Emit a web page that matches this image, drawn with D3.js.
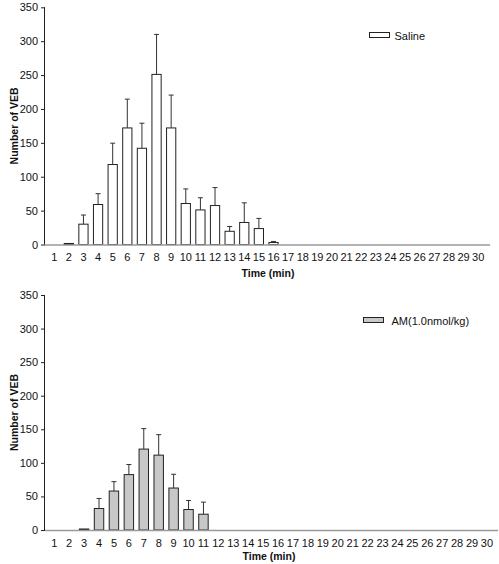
<!DOCTYPE html>
<html>
<head>
<meta charset="utf-8">
<script src="https://cdn.jsdelivr.net/npm/d3@7"></script>
<style>
  html, body { margin: 0; padding: 0; background: #fff; }
  svg { display: block; font-family: "Liberation Sans", Arial, sans-serif; }
</style>
</head>
<body>
<svg id="chart" width="499" height="564"></svg>
<script>
// ---- data ----
const minutes = d3.range(1, 31);
const yTicks = [0, 50, 100, 150, 200, 250, 300, 350];
const salineMean = [0, 1.5, 30, 59, 118, 172, 142, 251, 172, 60.5, 51, 57.5, 19.5, 32.5, 23.5, 3,
  0, 0, 0, 0, 0, 0, 0, 0, 0, 0, 0, 0, 0, 0];
const salineErr = [0, 0, 43.5, 75, 149.5, 214.5, 179, 310, 220.5, 82, 69, 84, 26.5, 61.5, 38.5, 4.5,
  0, 0, 0, 0, 0, 0, 0, 0, 0, 0, 0, 0, 0, 0];
const amMean = [0, 0, 1.5, 32, 58, 82.5, 120.5, 111.5, 62.5, 30.5, 23.5, 0,
  0, 0, 0, 0, 0, 0, 0, 0, 0, 0, 0, 0, 0, 0, 0, 0, 0, 0];
const amErr = [0, 0, 0, 47, 72, 97.5, 151, 142, 83, 44, 41.5, 0,
  0, 0, 0, 0, 0, 0, 0, 0, 0, 0, 0, 0, 0, 0, 0, 0, 0, 0];

const svg = d3.select("#chart");

function panel(cfg) {
  const g = svg.append("g");
  const y = d3.scaleLinear().domain([0, 350]).range([cfg.y0, cfg.y1]);
  const x = d3.scaleBand().domain(minutes).range(cfg.xr).paddingInner(0.3).paddingOuter(0.15);

  // y axis
  const ya = g.append("g").attr("transform", `translate(${cfg.axisX},0)`)
    .call(d3.axisLeft(y).tickValues(yTicks).tickSize(4).tickPadding(3));
  ya.select(".domain").attr("stroke", "#222").attr("d", `M-0.5,${cfg.y1}V${cfg.y0}`);
  ya.selectAll(".tick line").attr("stroke", "#222");
  ya.selectAll(".tick text").attr("font-size", "11px").attr("fill", "#111")
    .attr("font-family", "Liberation Sans, Arial, sans-serif");

  // bars
  const data = minutes.map((m, i) => ({ m, v: cfg.mean[i], e: cfg.err[i] }));
  g.selectAll("rect.bar").data(data.filter(d => d.v > 0)).join("rect")
    .attr("class", "bar")
    .attr("x", d => x(d.m) + 0.5)
    .attr("width", x.bandwidth() - 1)
    .attr("y", d => y(d.v))
    .attr("height", d => y(0) - y(d.v))
    .attr("fill", cfg.fill)
    .attr("stroke", "#222").attr("stroke-width", 1);

  // error bars
  const eb = data.filter(d => d.e > d.v);
  g.selectAll("line.err").data(eb).join("line")
    .attr("class", "err")
    .attr("x1", d => x(d.m) + x.bandwidth() / 2)
    .attr("x2", d => x(d.m) + x.bandwidth() / 2)
    .attr("y1", d => y(d.v)).attr("y2", d => y(d.e))
    .attr("stroke", "#333").attr("stroke-width", 1);
  g.selectAll("line.cap").data(eb).join("line")
    .attr("class", "cap")
    .attr("x1", d => x(d.m) + x.bandwidth() / 2 - 2.5)
    .attr("x2", d => x(d.m) + x.bandwidth() / 2 + 2.5)
    .attr("y1", d => y(d.e)).attr("y2", d => y(d.e))
    .attr("stroke", "#333").attr("stroke-width", 1);

  // x axis
  const xa = g.append("g").attr("transform", `translate(0,${cfg.y0})`)
    .call(d3.axisBottom(x).tickSize(0).tickPadding(9));
  xa.select(".domain").remove();
  g.append("line").attr("x1", cfg.axisX).attr("x2", cfg.axisEnd)
    .attr("y1", y(0) + 0.5).attr("y2", y(0) + 0.5)
    .attr("stroke", "#9a9a9a").attr("stroke-width", 1.6);
  xa.selectAll(".tick text").attr("font-size", "11px").attr("fill", "#111")
    .attr("font-family", "Liberation Sans, Arial, sans-serif");

  // axis titles
  g.append("text")
    .attr("transform", `translate(${cfg.ylabX},${(cfg.y0 + cfg.y1) / 2}) rotate(-90)`)
    .attr("text-anchor", "middle").attr("dominant-baseline", "central")
    .attr("font-size", "10.5px").attr("font-weight", "bold").attr("fill", "#111")
    .text("Number of VEB");
  g.append("text")
    .attr("x", cfg.xlabX).attr("y", cfg.xlabY)
    .attr("text-anchor", "middle").attr("dominant-baseline", "central")
    .attr("font-size", "10.5px").attr("font-weight", "bold").attr("fill", "#111")
    .text("Time (min)");

  // legend
  g.append("rect").attr("x", cfg.leg[0]).attr("y", cfg.leg[1]).attr("width", 20).attr("height", 5)
    .attr("fill", cfg.fill).attr("stroke", "#222").attr("stroke-width", 1);
  g.append("text").attr("x", cfg.leg[0] + cfg.legGap).attr("y", cfg.leg[1] + 3)
    .attr("dominant-baseline", "central").attr("font-size", "11px").attr("fill", "#111")
    .text(cfg.name);
}

panel({ mean: salineMean, err: salineErr, fill: "#ffffff", name: "Saline",
  y0: 244.5, y1: 7.3, xr: [46.9, 485.5], axisX: 45, axisEnd: 490,
  ylabX: 13.5, xlabX: 268, xlabY: 273, leg: [369.5, 32.5], legGap: 25 });
panel({ mean: amMean, err: amErr, fill: "#c8c8c8", name: "AM(1.0nmol/kg)",
  y0: 530, y1: 295, xr: [46.8, 494.4], axisX: 45, axisEnd: 498,
  ylabX: 13.5, xlabX: 269, xlabY: 556, leg: [363.5, 317.5], legGap: 28 });
</script>
</body>
</html>
